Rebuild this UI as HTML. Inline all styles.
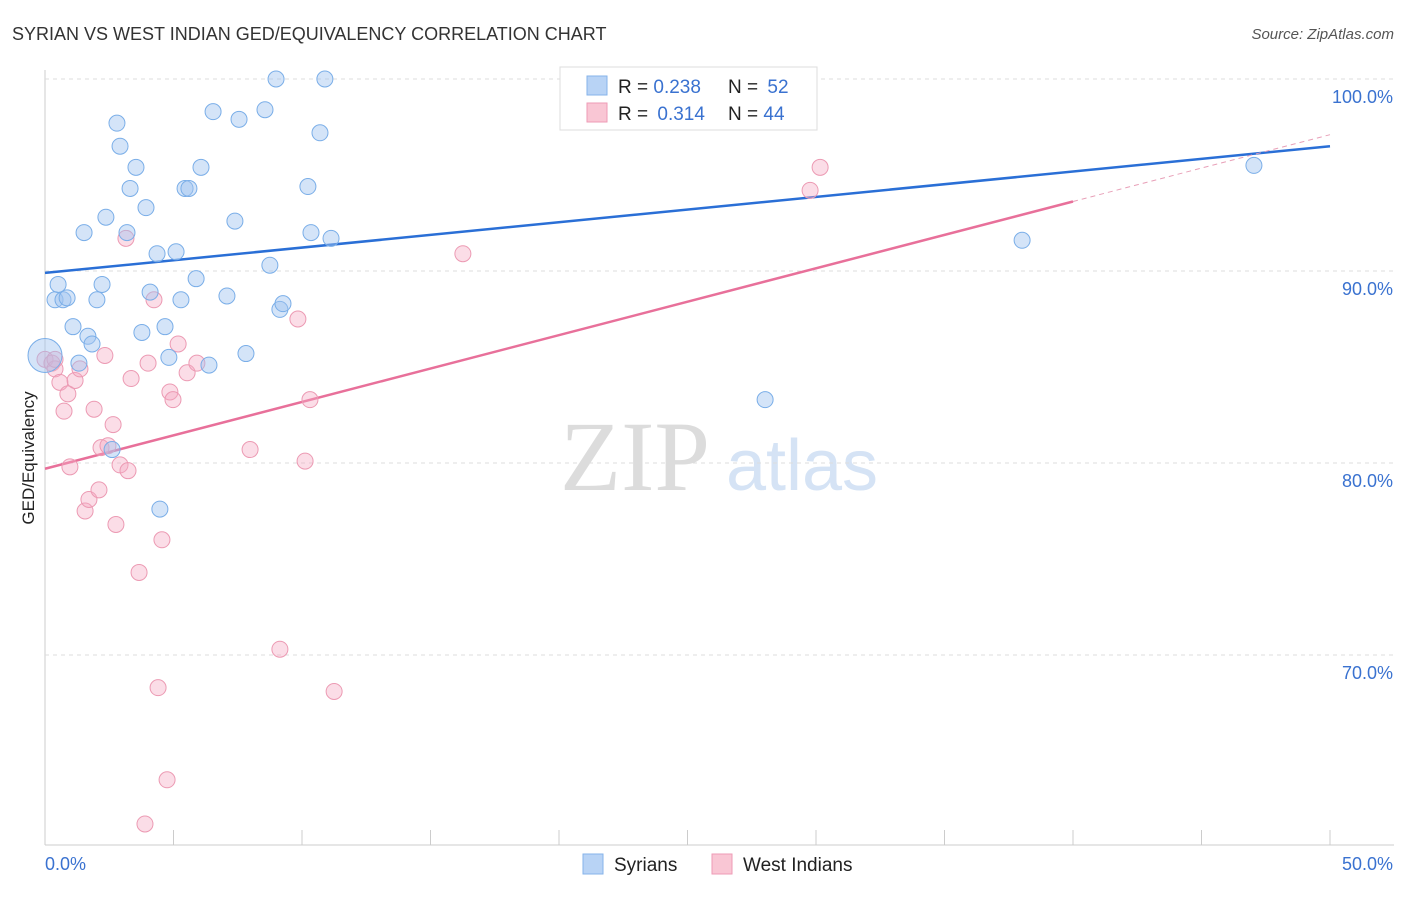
<!DOCTYPE html>
<html><head><meta charset="utf-8"><style>
body{margin:0;background:#fff;font-family:"Liberation Sans",sans-serif}
</style></head><body>
<svg id="c" width="1406" height="892" font-family="Liberation Sans, sans-serif">
<text x="12" y="40" font-size="18" fill="#333">SYRIAN VS WEST INDIAN GED/EQUIVALENCY CORRELATION CHART</text>
<text x="1394" y="39" font-size="15" fill="#555" font-style="italic" text-anchor="end">Source: ZipAtlas.com</text>
<g>
<text x="635" y="490" font-size="100" fill="#dcdcdc" style="font-family:'Liberation Serif',serif" text-anchor="middle">ZIP</text>
<text x="802" y="490" font-size="72" fill="#d5e3f5" text-anchor="middle">atlas</text>
</g>
<text transform="translate(34,458) rotate(-90)" font-size="17" fill="#222" text-anchor="middle">GED/Equivalency</text>
<g id="grid"></g><g id="lines"></g><g id="pts"></g>
<g>
<rect x="560" y="67" width="257" height="63" fill="#fff" stroke="#ddd"/>
<rect x="587" y="76" width="20" height="19" fill="#b8d3f5" stroke="#86b3ea"/>
<rect x="587" y="103" width="20" height="19" fill="#f9c6d4" stroke="#ee9bb6"/>
<text x="618" y="93" font-size="19" fill="#222">R = <tspan fill="#3a72d0">0.238</tspan></text>
<text x="728" y="93" font-size="19" fill="#222">N = <tspan fill="#3a72d0" dx="4">52</tspan></text>
<text x="618" y="120" font-size="19" fill="#222">R = <tspan fill="#3a72d0" dx="4">0.314</tspan></text>
<text x="728" y="120" font-size="19" fill="#222">N = <tspan fill="#3a72d0">44</tspan></text>
</g>
<g>
<rect x="583" y="854" width="20" height="20" fill="#b8d3f5" stroke="#86b3ea"/>
<text x="614" y="871" font-size="19" fill="#222">Syrians</text>
<rect x="712" y="854" width="20" height="20" fill="#f9c6d4" stroke="#ee9bb6"/>
<text x="743" y="871" font-size="19" fill="#222">West Indians</text>
</g>
</svg>
<script>
const yTicks=[100,90,80,70];
const xTickLabels=["0.0%","50.0%"];
const syrX=[0.0,0.39,0.51,0.70,0.86,1.09,1.52,1.67,1.83,2.02,2.22,2.37,2.61,2.80,2.92,3.19,3.31,3.54,3.77,3.93,4.09,4.36,4.47,4.67,4.82,5.10,5.29,5.45,5.60,5.88,6.07,6.38,6.54,7.08,7.39,7.55,7.82,8.56,8.75,8.99,9.14,9.26,10.23,10.35,10.70,10.89,11.13,27.82,28.02,38.02,47.04,1.32];
const syrY=[85.6,88.5,89.3,88.5,88.6,87.1,92.0,86.6,86.2,88.5,89.3,92.8,80.7,97.7,96.5,92.0,94.3,95.4,86.8,93.3,88.9,90.9,77.6,87.1,85.5,91.0,88.5,94.3,94.3,89.6,95.4,85.1,98.3,88.7,92.6,97.9,85.7,98.4,90.3,100.0,88.0,88.3,94.4,92.0,97.2,100.0,91.7,100.0,83.3,91.6,95.5,85.2];
const wiX=[0.0,0.27,0.39,0.58,0.74,0.89,0.97,1.17,1.36,1.56,1.71,1.91,2.10,2.18,2.33,2.45,2.65,2.76,2.92,3.15,3.23,3.35,3.66,4.01,4.24,4.40,4.55,4.75,4.86,4.98,5.18,5.53,5.91,3.89,7.98,9.14,9.84,10.12,10.31,11.25,16.26,29.77,30.16,0.39];
const wiY=[85.4,85.2,84.9,84.2,82.7,83.6,79.8,84.3,84.9,77.5,78.1,82.8,78.6,80.8,85.6,80.9,82.0,76.8,79.9,91.7,79.6,84.4,74.3,85.2,88.5,68.3,76.0,63.5,83.7,83.3,86.2,84.7,85.2,61.2,80.7,70.3,87.5,80.1,83.3,68.1,90.9,94.2,95.4,85.4];
const syrLine=[89.9,96.5];
const wiLine=[79.7,97.1];
const NS="http://www.w3.org/2000/svg";
const X=v=>45+v*25.7, Y=v=>79+(100-v)*19.2;
function mk(p,t,a){const e=document.createElementNS(NS,t);for(const k in a)e.setAttribute(k,a[k]);p.appendChild(e);return e;}
const grid=document.getElementById('grid');
mk(grid,'line',{x1:45,y1:70,x2:45,y2:845,stroke:'#ccc'});
mk(grid,'line',{x1:45,y1:845,x2:1394,y2:845,stroke:'#ccc'});
yTicks.forEach(t=>{
 const l=mk(grid,'line',{x1:45,x2:1394,y1:Y(t),y2:Y(t),stroke:'#ddd','stroke-dasharray':'4,4'});
 
 
 const tx=mk(grid,'text',{x:1393,y:Y(t)+24,'font-size':18,fill:'#3a72d0','text-anchor':'end'});
 tx.textContent=t.toFixed(1)+'%';
 
 
});
for(let i=0;i<=10;i++){mk(grid,'line',{x1:X(i*5),x2:X(i*5),y1:830,y2:845,stroke:'#ccc'});}
xTickLabels.forEach((s,i)=>{
 const tx=mk(grid,'text',{x:i?1393:45,y:870,'font-size':18,fill:'#3a72d0','text-anchor':i?'end':'start'});
 tx.textContent=s;
 
 
});
const lines=document.getElementById('lines');
let l1=mk(lines,'line',{x1:X(0),y1:Y(syrLine[0]),x2:X(50),y2:Y(syrLine[1]),stroke:'#2a6fd6','stroke-width':2.5});


const wAt=v=>wiLine[0]+(wiLine[1]-wiLine[0])*v/50;
let l2=mk(lines,'line',{x1:X(0),y1:Y(wAt(0)),x2:X(40),y2:Y(wAt(40)),stroke:'#e8709a','stroke-width':2.5});


let l3=mk(lines,'line',{x1:X(40),y1:Y(wAt(40)),x2:X(50),y2:Y(wAt(50)),stroke:'#e8a0b8','stroke-width':1,'stroke-dasharray':'5,4'});


const pts=document.getElementById('pts');
wiX.forEach((x,i)=>{const c=mk(pts,'circle',{cx:X(x),cy:Y(wiY[i]),r:8,fill:'rgba(244,170,195,0.4)',stroke:'#ec9ab3','stroke-width':1});
 
 });
syrX.forEach((x,i)=>{const c=mk(pts,'circle',{cx:X(x),cy:Y(syrY[i]),r:i===0?17:8,fill:'rgba(160,195,240,0.45)',stroke:'#7aaee8','stroke-width':1});
 
 });
</script>
</body></html>
